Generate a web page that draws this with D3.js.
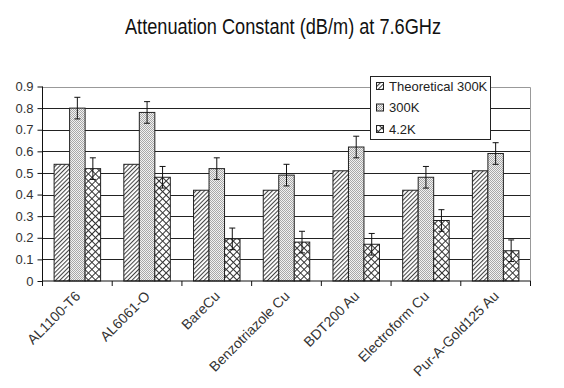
<!DOCTYPE html>
<html><head><meta charset="utf-8">
<script src="https://cdn.jsdelivr.net/npm/d3@7"></script>
<style>body{margin:0;background:#fff}svg{display:block}</style>
</head><body>
<svg id="c" width="564" height="388"></svg>
<script>
const categories = ["AL1100-T6","AL6061-O","BareCu","Benzotriazole Cu","BDT200 Au","Electroform Cu","Pur-A-Gold125 Au"];
const seriesNames = ["Theoretical 300K","300K","4.2K"];
const theoretical = [0.54,0.54,0.42,0.42,0.51,0.42,0.51];
const k300 = [0.80,0.78,0.52,0.49,0.62,0.48,0.59];
const k42 = [0.52,0.48,0.195,0.18,0.17,0.28,0.14];
const err300 = [0.05,0.05,0.05,0.05,0.05,0.05,0.05];
const err42 = [0.05,0.05,0.05,0.05,0.05,0.05,0.05];
const yTicks = [0,0.1,0.2,0.3,0.4,0.5,0.6,0.7,0.8,0.9];

const svg = d3.select("#c");
const L=42.5, R=530.5, T=86.5, B=281;
const font = "'Liberation Sans', Arial, sans-serif";

const defs = svg.append("defs");
const p1 = defs.append("pattern").attr("id","p0").attr("patternUnits","userSpaceOnUse")
  .attr("width",3).attr("height",3).attr("patternTransform","rotate(45)");
p1.append("rect").attr("width",3).attr("height",3).attr("fill","#fff");
p1.append("line").attr("x1",0.5).attr("y1",0).attr("x2",0.5).attr("y2",3).attr("stroke","#444").attr("stroke-width",1.1);
const p2 = defs.append("pattern").attr("id","p1").attr("patternUnits","userSpaceOnUse").attr("width",2).attr("height",2);
p2.append("rect").attr("width",2).attr("height",2).attr("fill","#f2f2f2");
p2.append("rect").attr("width",1).attr("height",1).attr("fill","#a8a8a8");
p2.append("rect").attr("x",1).attr("y",1).attr("width",1).attr("height",1).attr("fill","#a8a8a8");
const p3 = defs.append("pattern").attr("id","p2").attr("patternUnits","userSpaceOnUse")
  .attr("width",5).attr("height",5).attr("patternTransform","rotate(45)");
p3.append("rect").attr("width",5).attr("height",5).attr("fill","#fff");
p3.append("line").attr("x1",0.5).attr("y1",0).attr("x2",0.5).attr("y2",5).attr("stroke","#333").attr("stroke-width",1);
p3.append("line").attr("x1",0).attr("y1",0.5).attr("x2",5).attr("y2",0.5).attr("stroke","#333").attr("stroke-width",1);

const x = d3.scaleBand().domain(categories).range([L,R]).paddingInner(0).paddingOuter(0);
const y = d3.scaleLinear().domain([0,0.9]).range([B,T]);
const bw = 15.5;
const xs = d3.scaleBand().domain(seriesNames).range([0,bw*3]);
const off = (x.bandwidth()-bw*3)/2;

svg.append("text").attr("x",283).attr("y",34).attr("text-anchor","middle")
  .attr("font-family",font).attr("font-size",22).attr("fill","#111")
  .attr("textLength",316).attr("lengthAdjust","spacingAndGlyphs")
  .text("Attenuation Constant (dB/m) at 7.6GHz");

svg.append("g").selectAll("line").data(yTicks.filter(d=>d>0)).join("line")
  .attr("x1",L).attr("x2",R).attr("y1",d=>Math.round(y(d))+0.5).attr("y2",d=>Math.round(y(d))+0.5)
  .attr("stroke",d=>d===0.9?"#999":"#222").attr("stroke-width",1);
svg.append("line").attr("x1",R).attr("x2",R).attr("y1",Math.round(y(0.9))+0.5).attr("y2",B).attr("stroke","#999");

const series = [theoretical,k300,k42];
const errs = [null,err300,err42];
series.forEach((vals,si)=>{
  const g = svg.append("g");
  g.selectAll("rect").data(vals).join("rect")
    .attr("x",(d,i)=>x(categories[i])+off+xs(seriesNames[si]))
    .attr("y",d=>y(d)).attr("width",bw).attr("height",d=>B-y(d))
    .attr("fill",`url(#p${si})`).attr("stroke","#222").attr("stroke-width",1);
  if(errs[si]){
    const e = errs[si];
    const cx = i=>x(categories[i])+off+xs(seriesNames[si])+bw/2;
    g.selectAll("line.v").data(vals).join("line").attr("class","v")
      .attr("x1",(d,i)=>cx(i)).attr("x2",(d,i)=>cx(i))
      .attr("y1",(d,i)=>y(d+e[i])).attr("y2",(d,i)=>y(d-e[i])).attr("stroke","#111");
    [1,-1].forEach(s=>{
      g.selectAll("line.c"+(s>0?"t":"b")).data(vals).join("line").attr("class","c"+(s>0?"t":"b"))
        .attr("x1",(d,i)=>cx(i)-3).attr("x2",(d,i)=>cx(i)+3)
        .attr("y1",(d,i)=>y(d+s*e[i])).attr("y2",(d,i)=>y(d+s*e[i])).attr("stroke","#111");
    });
  }
});

const ya = svg.append("g").attr("transform",`translate(${L},0)`)
  .call(d3.axisLeft(y).tickValues(yTicks).tickSize(5).tickPadding(4).tickFormat(d=>d===0?"0":d3.format(".1f")(d)));
ya.select(".domain").attr("stroke","#111").attr("d",`M0,${T}V${B}`);
ya.selectAll(".tick line").attr("stroke","#111");
ya.selectAll("text").attr("font-family",font).attr("font-size",13).attr("fill","#333");

const xa = svg.append("g").attr("transform",`translate(0,${B})`);
xa.append("line").attr("x1",L).attr("x2",R).attr("y1",0).attr("y2",0).attr("stroke","#111");
xa.selectAll("line.t").data(d3.range(categories.length+1)).join("line").attr("class","t")
  .attr("x1",i=>L+i*x.bandwidth()).attr("x2",i=>L+i*x.bandwidth()).attr("y1",0).attr("y2",5).attr("stroke","#111");
xa.selectAll("text").data(categories).join("text")
  .attr("transform",d=>`translate(${x(d)+x.bandwidth()/2+4},${16}) rotate(-45)`)
  .attr("text-anchor","end").attr("font-family",font).attr("font-size",14).attr("fill","#333")
  .text(d=>d);

const lg = svg.append("g");
lg.append("rect").attr("x",370.5).attr("y",76.5).attr("width",120).attr("height",63)
  .attr("fill","#fff").attr("stroke","#222");
seriesNames.forEach((n,i)=>{
  const yy = 86+i*21.5;
  lg.append("rect").attr("x",376.5).attr("y",yy-3.5).attr("width",7).attr("height",7)
    .attr("fill",`url(#p${i})`).attr("stroke","#222");
  lg.append("text").attr("x",389).attr("y",yy+4.5).attr("font-family",font).attr("font-size",13)
    .attr("fill","#222").text(n);
});
</script>
</body></html>
